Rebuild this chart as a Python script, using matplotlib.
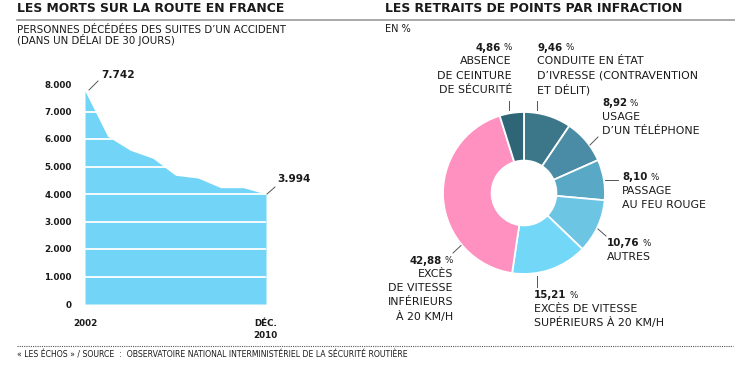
import numpy as np
import matplotlib
matplotlib.use("Agg")
import matplotlib.pyplot as plt

plt.rcParams['font.family'] = ['DejaVu Sans']

## données : morts sur la route
years = [2002, 2003, 2004, 2005, 2006, 2007, 2008, 2009, 2010]
deaths = [7742, 6100, 5590, 5300, 4680, 4580, 4230, 4230, 3994]
y_ticks = [0, 1000, 2000, 3000, 4000, 5000, 6000, 7000, 8000]
y_tick_labels = ["0", "1.000", "2.000", "3.000", "4.000", "5.000", "6.000", "7.000", "8.000"]

## données : retraits de points (sens horaire depuis midi)
shares = [9.46, 8.92, 8.10, 10.76, 15.21, 42.88, 4.86]
share_labels = ["CONDUITE EN ÉTAT\nD’IVRESSE (CONTRAVENTION\nET DÉLIT)",
                "USAGE\nD’UN TÉLÉPHONE",
                "PASSAGE\nAU FEU ROUGE",
                "AUTRES",
                "EXCÈS DE VITESSE\nSUPÉRIEURS À 20 KM/H",
                "EXCÈS\nDE VITESSE\nINFÉRIEURS\nÀ 20 KM/H",
                "ABSENCE\nDE CEINTURE\nDE SÉCURITÉ"]
pie_colors = ['#3b7689', '#4a8ca5', '#58a8c6', '#6cc5e3', '#73d7f8', '#ff91c1', '#2e6577']

W, H = 735, 368
dark = '#1a1a1a'


def P(x, y):
    # pixels depuis le coin haut gauche -> fraction de figure
    return x / W, 1 - y / H


fig = plt.figure(figsize=(W / 100, H / 100), dpi=100)

# titres
fig.text(*P(17, 9), "LES MORTS SUR LA ROUTE EN FRANCE", fontsize=8.9, fontweight='bold', color=dark, va='center')
fig.text(*P(385, 9), "LES RETRAITS DE POINTS PAR INFRACTION", fontsize=8.9, fontweight='bold', color=dark,
         va='center')
fig.add_artist(plt.Line2D([17 / W, 1], [1 - 20 / H] * 2, color='#9a9a9a', lw=1.2))
fig.text(*P(17, 30), "PERSONNES DÉCÉDÉES DES SUITES D’UN ACCIDENT", fontsize=7.35, color=dark, va='center')
fig.text(*P(17, 39.5), "(DANS UN DÉLAI DE 30 JOURS)", fontsize=7.35, color=dark, va='center')
fig.text(*P(385, 29.5), "EN %", fontsize=7.0, color=dark, va='center')

# pied de page
fig.add_artist(plt.Line2D([17 / W, 733 / W], [1 - 345.5 / H] * 2, color='#555555', lw=0.8, linestyle=(0, (1, 1))))
fig.text(*P(17, 354.5), "« LES ÉCHOS » / SOURCE  :  OBSERVATOIRE NATIONAL INTERMINISTÉRIEL DE LA SÉCURITÉ ROUTIÈRE",
         fontsize=5.55, color=dark, va='center')

## graphique de gauche
ax = fig.add_axes([85 / W, 1 - 304 / H, 181 / W, 220 / H])
ax.fill_between(years, deaths, color='#72d5f7', lw=0)
for t in y_ticks[1:-1]:
    ax.axhline(t, color='white', lw=1.3)
ax.set_xlim(2002, 2010)
ax.set_ylim(0, 8000)
for s in ax.spines.values():
    s.set_visible(False)
ax.set_xticks([])
ax.set_yticks(y_ticks, labels=y_tick_labels)
ax.tick_params(axis='y', length=0, pad=9.5, labelsize=6.3, labelcolor=dark)
for lab in ax.get_yticklabels():
    lab.set_fontweight('bold')

fig.text(*P(85.5, 323.5), "2002", fontsize=6.3, fontweight='bold', color=dark, ha='center', va='center')
fig.text(*P(265.5, 323.5), "DÉC.", fontsize=6.3, fontweight='bold', color=dark, ha='center', va='center')
fig.text(*P(265.5, 335), "2010", fontsize=6.3, fontweight='bold', color=dark, ha='center', va='center')

ax.annotate(f"{deaths[0]:,}".replace(',', '.'), xy=(years[0], deaths[0]), xytext=(16, 16),
            textcoords='offset pixels', fontsize=7.6, fontweight='bold', color=dark, va='center',
            annotation_clip=False)
fig.add_artist(plt.Line2D([89 / W, 98 / W], [1 - 90 / H, 1 - 81 / H], color='#555555', lw=0.7))
ax.annotate(f"{deaths[-1]:,}".replace(',', '.'), xy=(years[-1], deaths[-1]), xytext=(11, 15.5),
            textcoords='offset pixels', fontsize=7.6, fontweight='bold', color=dark, va='center',
            annotation_clip=False)
fig.add_artist(plt.Line2D([267 / W, 275 / W], [1 - 194 / H, 1 - 187 / H], color='#555555', lw=0.7))

## graphique de droite (anneau)
cx, cy, r = 524, 193, 81
ax2 = fig.add_axes([(cx - r) / W, 1 - (cy + r) / H, 2 * r / W, 2 * r / H])
ax2.pie(shares, colors=pie_colors, startangle=90, counterclock=False, radius=1,
        wedgeprops=dict(width=0.6, edgecolor='white', linewidth=1.3))
ax2.set_xlim(-1, 1)
ax2.set_ylim(-1, 1)
ax2.axis('off')

# position des étiquettes (px) : x, y de la valeur, alignement
label_pos = [(537, 48, 'left'), (602, 103, 'left'), (622, 177, 'left'), (607, 243, 'left'),
             (534, 295, 'left'), (453, 260.5, 'right'), (512, 48, 'right')]
leaders = [((537, 101), (537, 110)), ((590, 145), (598, 137)), ((605, 180), (618, 180)),
           ((598, 229), (606, 236)), ((537, 276), (537, 287)), ((453, 253), (461, 245.5)),
           ((509.5, 101), (509.5, 110))]

for v, txt, (x, y, ha), (p0, p1) in zip(shares, share_labels, label_pos, leaders):
    num = f"{v:.2f}".replace('.', ',')
    if ha == 'left':
        t = fig.text(*P(x, y), num, fontsize=7.4, fontweight='bold', color=dark, ha='left', va='center')
        plt.annotate("%", xy=(1, 0.5), xycoords=t, xytext=(3, 0), textcoords='offset pixels',
                     fontsize=6.3, color=dark, va='center', ha='left')
    else:
        t = fig.text(*P(x, y), "%", fontsize=6.3, color=dark, ha='right', va='center')
        plt.annotate(num, xy=(0, 0.5), xycoords=t, xytext=(-3, 0), textcoords='offset pixels',
                     fontsize=7.4, fontweight='bold', color=dark, va='center', ha='right')
    for i, line in enumerate(txt.split("\n")):
        fig.text(*P(x, y + 13.5 + 14.2 * i), line, fontsize=7.9, color=dark, ha=ha, va='center')
    fig.add_artist(plt.Line2D([p0[0] / W, p1[0] / W], [1 - p0[1] / H, 1 - p1[1] / H], color='#555555', lw=0.7))

plt.savefig("out.png", dpi=100)
